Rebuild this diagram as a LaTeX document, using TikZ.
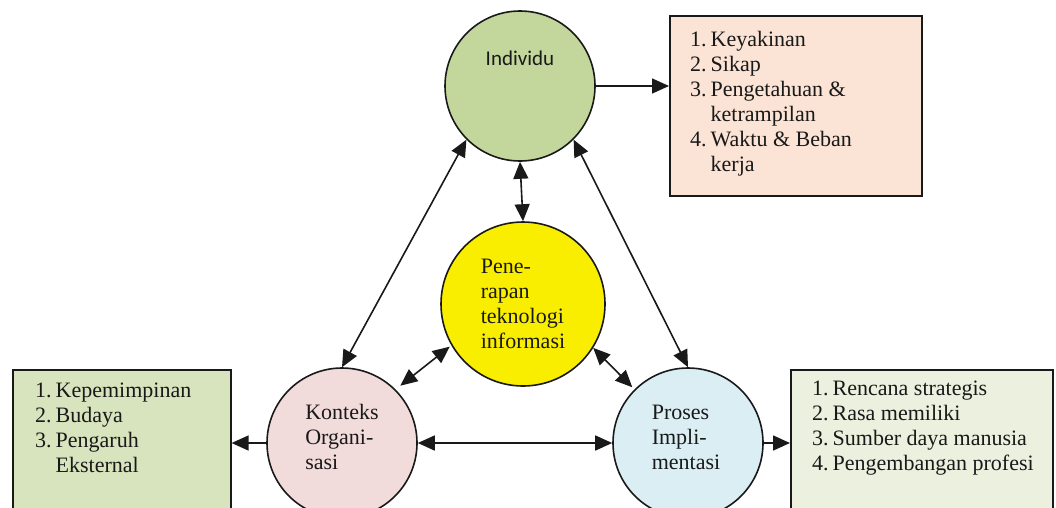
\documentclass[tikz,border=0pt]{standalone}
\usepackage{fontspec}
\setmainfont{Liberation Serif}
\newfontfamily\calibri{Carlito}
\usetikzlibrary{arrows.meta}
\definecolor{ink}{RGB}{25,25,25}
\definecolor{indfill}{RGB}{195,214,155}
\definecolor{penfill}{RGB}{250,238,0}
\definecolor{konfill}{RGB}{242,220,219}
\definecolor{profill}{RGB}{219,238,244}
\definecolor{keyfill}{RGB}{251,227,213}
\definecolor{orgfill}{RGB}{215,228,189}
\definecolor{strfill}{RGB}{235,241,222}

\begin{document}
\begin{tikzpicture}[x=1pt, y=-1pt]
            \tikzset{factor/.style={circle, draw=ink, line width=1.6pt, minimum size=150pt, inner sep=0pt, font=\fontsize{22}{25}\selectfont, align=left, text=ink}}
            \tikzset{ctext/.style={inner sep=0pt, font=\fontsize{22}{25}\selectfont, align=left, text=ink}}
            \tikzset{listbox/.style={draw=ink, line width=1.6pt, anchor=north west, inner sep=0pt}}
            \tikzset{listtext/.style={anchor=north west, inner sep=0pt, font=\fontsize{22}{25}\selectfont, text=ink}}
            \tikzset{link/.style={line width=1.6pt, ink, -{Triangle[length=17pt, width=15pt]}}}
            \tikzset{twoway/.style={link, {Triangle[length=17pt, width=15pt]}-{Triangle[length=17pt, width=15pt]}}}
            \useasboundingbox (0, 0) rectangle (1056, 507);
            \clip (0, 0) rectangle (1056, 507);

            \node[listbox, fill=keyfill, minimum width=252pt, minimum height=180pt] (keybox) at (669, 15) {};
            \node[listbox, fill=orgfill, minimum width=218pt, minimum height=160pt] (orgbox) at (12, 369) {};
            \node[listbox, fill=strfill, minimum width=262pt, minimum height=160pt] (strbox) at (790, 369) {};
            \node[listtext] (keylist) at (690, 29) {\begin{tabular}{@{}l@{\hspace{4pt}}l@{}}
                1. & Keyakinan\\ 2. & Sikap\\ 3. & Pengetahuan \&\\ & ketrampilan\\ 4. & Waktu \& Beban\\ & kerja
            \end{tabular}};
            \node[listtext] (orglist) at (35, 380) {\begin{tabular}{@{}l@{\hspace{4pt}}l@{}}
                1. & Kepemimpinan\\ 2. & Budaya\\ 3. & Pengaruh\\ & Eksternal
            \end{tabular}};
            \node[listtext] (strlist) at (812, 378) {\begin{tabular}{@{}l@{\hspace{4pt}}l@{}}
                1. & Rencana strategis\\ 2. & Rasa memiliki\\ 3. & Sumber daya manusia\\ 4. & Pengembangan profesi
            \end{tabular}};

            \node[factor, fill=indfill] (ind) at (520, 86) {};
            \node[ctext, font=\calibri\fontsize{21}{25}\selectfont] (indlbl) at ([yshift=28pt]ind.center) {Individu};
            \node[factor, fill=penfill, minimum size=164pt] (pen) at (523, 304) {Pene-\\rapan\\teknologi\\informasi};
            \node[factor, fill=konfill] (kon) at (342, 443) {};
            \node[ctext] (konlbl) at ([yshift=6pt]kon.center) {Konteks\\Organi-\\sasi};
            \node[factor, fill=profill] (pro) at (688, 443) {};
            \node[ctext] (prolbl) at ([yshift=6pt, xshift=-2pt]pro.center) {Proses\\Impli-\\mentasi};

            \draw[link] (ind.east) -- (ind.east -| keybox.west);
            \draw[link] (kon.west) -- (kon.west -| orgbox.east);
            \draw[link] (pro.east) -- (pro.east -| strbox.west);
            \draw[twoway] (ind.south) -- (pen.north);
            \draw[twoway] (ind.south west) -- (kon.north);
            \draw[twoway] (ind.south east) -- (pro.north);
            \draw[twoway] (kon.east) -- (pro.west);
            \draw[twoway, shorten <=2pt, shorten >=6pt] (pen.210) -- (kon.north east);
            \draw[twoway, shorten >=3pt] (pen.328) -- (pro.north west);
\end{tikzpicture}
\end{document}
